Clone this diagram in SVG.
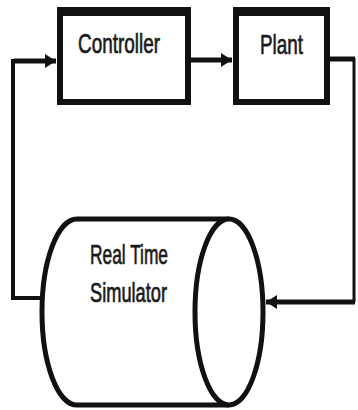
<svg xmlns="http://www.w3.org/2000/svg" width="358" height="410" viewBox="0 0 358 410">
<defs>
<marker id="arr" markerUnits="userSpaceOnUse" markerWidth="12" markerHeight="14" refX="11" refY="7" orient="auto">
<path d="M0,0 L11,7 L0,14 Z" fill="#111"/>
</marker>
<style>
.box{fill:#fff;stroke:#111;stroke-width:6}
.top{stroke:#111;stroke-width:9}
.lbl{font-family:"Liberation Sans",Arial,sans-serif;font-size:28px;fill:#1a1a1a;stroke:#1a1a1a;stroke-width:0.7}
.ln{fill:none;stroke:#111;stroke-linejoin:miter}
.cyl{fill:#fff;stroke:#111;stroke-width:5}
</style>
</defs>
<rect width="358" height="410" fill="#fff"/>
<g id="connectors">
<path class="ln" d="M42,298 H13 V61 H47" stroke-width="4"/>
<path class="ln" d="M14,61 H56" stroke-width="5" marker-end="url(#arr)"/>
<path class="ln" d="M191,60 H232" stroke-width="5" marker-end="url(#arr)"/>
<path class="ln" d="M330,59 H355" stroke-width="5"/>
<path class="ln" d="M354,58 V302" stroke-width="3"/>
<path class="ln" d="M355,302 H266" stroke-width="5" marker-end="url(#arr)"/>
</g>
<g id="controller">
<rect class="box" x="60" y="11" width="128" height="91"/>
<line class="top" x1="57" y1="11.5" x2="191" y2="11.5"/>
<text class="lbl" x="78" y="53" textLength="82" lengthAdjust="spacingAndGlyphs">Controller</text>
</g>
<g id="plant">
<rect class="box" x="236" y="11" width="91" height="91"/>
<line class="top" x1="233" y1="11.5" x2="330" y2="11.5"/>
<text class="lbl" x="260" y="54" textLength="43" lengthAdjust="spacingAndGlyphs">Plant</text>
</g>
<g id="simulator">
<path class="cyl" d="M229,219 H77 A35,93 0 0 0 77,405 H229"/>
<ellipse class="cyl" cx="229" cy="312" rx="34" ry="93"/>
<text class="lbl" x="90" y="264" textLength="78" lengthAdjust="spacingAndGlyphs">Real Time</text>
<text class="lbl" x="90" y="302" textLength="77" lengthAdjust="spacingAndGlyphs">Simulator</text>
</g>
</svg>
